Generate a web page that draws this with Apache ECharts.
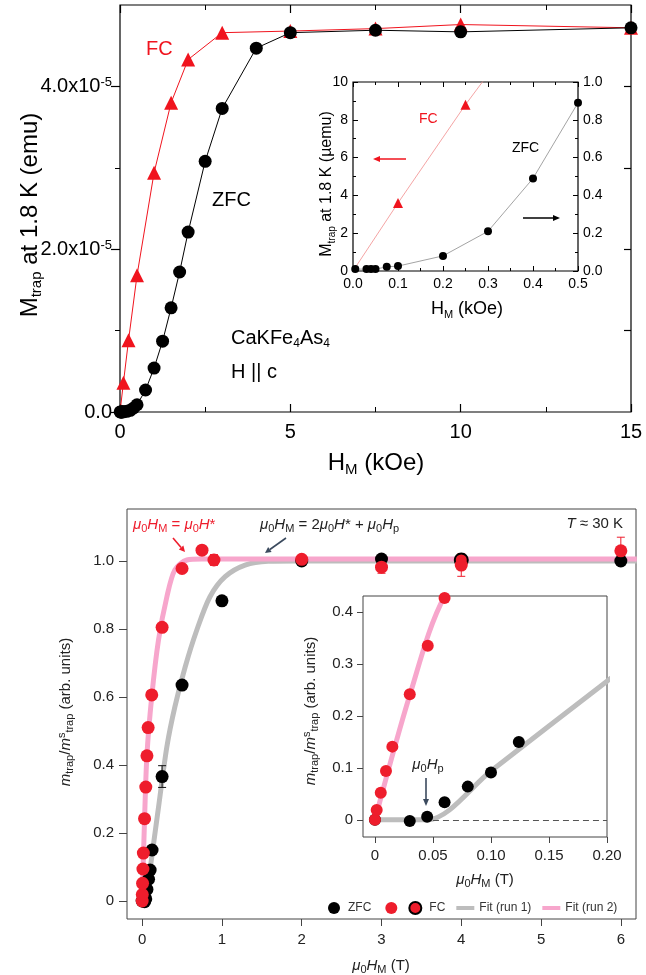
<!DOCTYPE html>
<html>
<head>
<meta charset="utf-8">
<script src="https://cdn.jsdelivr.net/npm/echarts@6/dist/echarts.min.js"></script>
<style>
html,body{margin:0;padding:0;background:#fff}
#chart{width:646px;height:975px}
</style>
</head>
<body>
<div id="chart"></div>
<script>
// ---------- top panel: trapped moment at 1.8 K (emu) vs H_M (kOe)
var zfcH = [0.005, 0.03, 0.04, 0.05, 0.075, 0.1, 0.2, 0.3, 0.4, 0.5, 0.75, 1.0, 1.25, 1.5, 1.75, 2.0, 2.5, 3.0, 4.0, 5.0, 7.5, 10, 15];
var zfcM = [1e-8, 1e-8, 1e-8, 1e-8, 2.2e-8, 2.6e-8, 8e-8, 2.1e-7, 4.9e-7, 8.9e-7, 2.7e-6, 5.4e-6, 8.7e-6, 1.28e-5, 1.72e-5, 2.21e-5, 3.08e-5, 3.73e-5, 4.47e-5, 4.66e-5, 4.69e-5, 4.67e-5, 4.72e-5];
var fcH = [0, 0.1, 0.25, 0.5, 1.0, 1.5, 2.0, 3.0, 5.0, 7.5, 10, 15];
var fcM = [0, 3.6e-6, 8.8e-6, 1.68e-5, 2.94e-5, 3.80e-5, 4.33e-5, 4.66e-5, 4.68e-5, 4.71e-5, 4.76e-5, 4.72e-5];
var insetMaxH = 0.5; // inset shows the low-field part in µemu

// ---------- bottom panel: m_trap / m^s_trap vs µ0H_M (T), T = 30 K
var zfcX = [0, 0.03, 0.045, 0.06, 0.08, 0.1, 0.124, 0.25, 0.5, 1.0, 2.0, 3.0, 6.0];
var zfcY = [0, -0.002, 0.006, 0.034, 0.064, 0.091, 0.15, 0.366, 0.635, 0.883, 1.0, 1.006, 1.0];
var fcX = [0, 0.0015, 0.005, 0.0095, 0.015, 0.03, 0.0455, 0.06, 0.075, 0.12, 0.25, 0.5, 0.75, 0.9, 2.0, 3.0, 4.0, 6.0];
var fcY = [0, 0.019, 0.052, 0.094, 0.141, 0.242, 0.335, 0.427, 0.51, 0.606, 0.805, 0.978, 1.032, 1.003, 1.005, 0.982, 0.988, 1.03];
var fc1X = [4.0];
var fc1Y = [1.003];
var fit1X = [0, 0.045, 0.1, 0.2, 0.31, 0.41, 0.54, 0.685, 0.85, 1.04, 1.29, 1.58, 1.96, 6.2];
var fit1Y = [0, 0, 0.094, 0.267, 0.454, 0.571, 0.689, 0.797, 0.895, 0.954, 0.988, 0.999, 1.0, 1.0];
var fit2X = [0, 0.03, 0.06, 0.12, 0.205, 0.31, 0.41, 0.56, 0.75, 6.2];
var fit2Y = [0, 0.24, 0.43, 0.601, 0.768, 0.895, 0.974, 1.003, 1.006, 1.006];
var errZX = [0.25], errZY = [0.366], errZD = [0.032];
var errFX = [0.9, 3.0, 4.0, 6.0], errFY = [1.003, 0.982, 0.988, 1.03], errFD = [0.016, 0.018, 0.033, 0.04];

var RED = '#f0141e', RED2 = '#ee1d2c', PINK = '#f7a6cc', GREY = '#bdbdbd', DARK = '#3b4a5e';
var FT = 'Liberation Sans, Arial, sans-serif';

function pairs(xs, ys, k) {
  return xs.map(function (x, i) { return [x, ys[i] * (k || 1)]; });
}
function triples(xs, ys, ds) {
  return xs.map(function (x, i) { return [x, ys[i], ds[i]]; });
}
function low(xs, ys, k) {
  return pairs(xs, ys, k).filter(function (p) { return p[0] <= insetMaxH; });
}
// first FC point (origin) has no marker
function noOrigin(arr) {
  return arr.map(function (p) { return p[0] === 0 ? { value: p, symbol: 'none' } : p; });
}
function errBar(color) {
  return function (params, api) {
    var x = api.value(0), y = api.value(1), d = api.value(2);
    var hi = api.coord([x, y + d]), lo = api.coord([x, y - d]);
    var w = 4, st = { stroke: color, lineWidth: 1 };
    return { type: 'group', children: [
      { type: 'line', shape: { x1: hi[0], y1: hi[1], x2: lo[0], y2: lo[1] }, style: st },
      { type: 'line', shape: { x1: hi[0] - w, y1: hi[1], x2: hi[0] + w, y2: hi[1] }, style: st },
      { type: 'line', shape: { x1: lo[0] - w, y1: lo[1], x2: lo[0] + w, y2: lo[1] }, style: st }
    ]};
  };
}
function arrow(x1, y1, x2, y2, color, lw, hl, hw) {
  var a = Math.atan2(y2 - y1, x2 - x1);
  var bx = x2 - hl * Math.cos(a), by = y2 - hl * Math.sin(a);
  var px = -Math.sin(a) * hw / 2, py = Math.cos(a) * hw / 2;
  return [
    { type: 'line', shape: { x1: x1, y1: y1, x2: bx, y2: by }, style: { stroke: color, lineWidth: lw } },
    { type: 'polygon', shape: { points: [[x2, y2], [bx + px, by + py], [bx - px, by - py]] }, style: { fill: color } }
  ];
}
function txt(x, y, text, size, rich, opt) {
  var o = { type: 'text', x: x, y: y, style: {
    text: text, fontFamily: FT, fontSize: size, fill: '#000',
    align: 'left', verticalAlign: 'middle', rich: rich || {}
  }};
  if (opt) {
    for (var k in opt.style || {}) o.style[k] = opt.style[k];
    if (opt.rotation) o.rotation = opt.rotation;
  }
  return o;
}
function richSet(size, color, subK) {
  var ss = Math.round(size * (subK || 0.62));
  return {
    t: { fontSize: size, fill: color, fontFamily: FT, lineHeight: size + 4 },
    i: { fontSize: size, fill: color, fontFamily: FT, fontStyle: 'italic', lineHeight: size + 4 },
    s: { fontSize: ss, fill: color, fontFamily: FT, verticalAlign: 'bottom', lineHeight: ss },
    u: { fontSize: ss, fill: color, fontFamily: FT, verticalAlign: 'top', lineHeight: ss }
  };
}

var chart = echarts.init(document.getElementById('chart'), null, { renderer: 'canvas' });

function ax(o) {
  var base = { type: 'value', splitLine: { show: false }, axisLine: { show: false, onZero: false } };
  for (var k in o) base[k] = o[k];
  return base;
}
var barIcon = 'path://M0 0H18V4H0Z';

var option = {
  animation: false,
  backgroundColor: '#fff',
  grid: [
    { left: 120, top: 5, width: 511, height: 407, show: true, borderColor: '#000', borderWidth: 1.2 },
    { left: 353, top: 82, width: 225, height: 189, show: true, borderColor: '#000', borderWidth: 1.2 },
    { left: 127, top: 509, width: 509, height: 410, show: true, borderColor: '#444', borderWidth: 1 },
    { left: 363, top: 596, width: 244, height: 241, show: true, borderColor: '#444', borderWidth: 1 }
  ],
  xAxis: [
    ax({ gridIndex: 0, min: 0, max: 15, interval: 5, position: 'bottom',
      axisTick: { inside: true, length: 8, lineStyle: { color: '#000', width: 1.2 } },
      minorTick: { show: true, splitNumber: 2, length: 5, lineStyle: { color: '#000' } },
      axisLabel: { margin: 10, fontFamily: FT, fontSize: 20, color: '#000' } }),
    ax({ gridIndex: 0, min: 0, max: 15, interval: 5, position: 'top',
      axisTick: { inside: true, length: 8, lineStyle: { color: '#000', width: 1.2 } },
      minorTick: { show: true, splitNumber: 2, length: 5, lineStyle: { color: '#000' } },
      axisLabel: { show: false } }),
    ax({ gridIndex: 1, min: 0, max: 0.5, interval: 0.1, position: 'bottom',
      axisTick: { inside: true, length: 5, lineStyle: { color: '#000' } },
      minorTick: { show: true, splitNumber: 2, length: 3, lineStyle: { color: '#000' } },
      axisLabel: { margin: 6, fontFamily: FT, fontSize: 14, color: '#000',
        formatter: function (v) { return v.toFixed(1); } } }),
    ax({ gridIndex: 1, min: 0, max: 0.5, interval: 0.1, position: 'top',
      axisTick: { inside: true, length: 5, lineStyle: { color: '#000' } },
      minorTick: { show: true, splitNumber: 2, length: 3, lineStyle: { color: '#000' } },
      axisLabel: { show: false } }),
    ax({ gridIndex: 2, min: -0.19, max: 6.19, position: 'bottom',
      axisTick: { show: true, inside: false, length: 7, customValues: [0, 1, 2, 3, 4, 5, 6], lineStyle: { color: '#444' } },
      axisLabel: { margin: 13, fontFamily: FT, fontSize: 15, color: '#222', customValues: [0, 1, 2, 3, 4, 5, 6] } }),
    ax({ gridIndex: 3, min: -0.0103, max: 0.2, position: 'bottom',
      axisTick: { show: true, inside: false, length: 6, customValues: [0, 0.05, 0.1, 0.15, 0.2], lineStyle: { color: '#444' } },
      axisLabel: { margin: 11, fontFamily: FT, fontSize: 15, color: '#222', customValues: [0, 0.05, 0.1, 0.15, 0.2],
        formatter: function (v) { return v === 0 ? '0' : v.toFixed(2); } } })
  ],
  yAxis: [
    ax({ gridIndex: 0, min: 0, max: 5e-5, position: 'left',
      axisTick: { show: true, inside: false, length: 9, customValues: [0, 2e-5, 4e-5], lineStyle: { color: '#000', width: 1.2 } },
      axisLabel: { margin: 8, customValues: [0, 2e-5, 4e-5], fontFamily: FT, fontSize: 20, color: '#000',
        formatter: function (v) { return v === 0 ? '0.0' : '{a|' + (v * 1e5).toFixed(1) + 'x10}{b|-5}'; },
        rich: { a: { fontFamily: FT, fontSize: 20, color: '#000' },
                b: { fontFamily: FT, fontSize: 13, color: '#000', verticalAlign: 'top', lineHeight: 13 } } } }),
    ax({ gridIndex: 0, min: 0, max: 5e-5, position: 'left',
      axisTick: { show: true, inside: false, length: 5, customValues: [1e-5, 3e-5], lineStyle: { color: '#000' } },
      axisLabel: { show: false } }),
    ax({ gridIndex: 0, min: 0, max: 5e-5, position: 'right',
      axisTick: { show: true, inside: true, length: 7, customValues: [1e-5, 2e-5, 3e-5, 4e-5], lineStyle: { color: '#000', width: 1.2 } },
      axisLabel: { show: false } }),
    ax({ gridIndex: 1, min: 0, max: 10, interval: 2, position: 'left',
      axisTick: { inside: true, length: 5, lineStyle: { color: '#000' } },
      minorTick: { show: true, splitNumber: 2, length: 3, lineStyle: { color: '#000' } },
      axisLabel: { margin: 5, fontFamily: FT, fontSize: 14, color: '#000' } }),
    ax({ gridIndex: 1, min: 0, max: 1, interval: 0.2, position: 'right',
      axisTick: { inside: true, length: 5, lineStyle: { color: '#000' } },
      minorTick: { show: true, splitNumber: 2, length: 3, lineStyle: { color: '#000' } },
      axisLabel: { margin: 5, fontFamily: FT, fontSize: 14, color: '#000',
        formatter: function (v) { return v.toFixed(1); } } }),
    ax({ gridIndex: 2, min: -0.053, max: 1.153, position: 'left',
      axisTick: { show: true, inside: false, length: 8, customValues: [0, 0.2, 0.4, 0.6, 0.8, 1.0], lineStyle: { color: '#444' } },
      axisLabel: { margin: 13, fontFamily: FT, fontSize: 15, color: '#222', customValues: [0, 0.2, 0.4, 0.6, 0.8, 1.0],
        formatter: function (v) { return v === 0 ? '0' : v.toFixed(1); } } }),
    ax({ gridIndex: 3, min: -0.033, max: 0.431, position: 'left',
      axisTick: { show: true, inside: false, length: 6, customValues: [0, 0.1, 0.2, 0.3, 0.4], lineStyle: { color: '#444' } },
      axisLabel: { margin: 10, fontFamily: FT, fontSize: 15, color: '#222', customValues: [0, 0.1, 0.2, 0.3, 0.4],
        formatter: function (v) { return v === 0 ? '0' : v.toFixed(1); } } })
  ],
  legend: {
    left: 323, top: 896, itemWidth: 18, itemHeight: 12, itemGap: 11,
    textStyle: { fontFamily: FT, fontSize: 12, color: '#333' },
    data: ['ZFC', 'FC2', 'FC', { name: 'Fit (run 1)', icon: barIcon }, { name: 'Fit (run 2)', icon: barIcon }],
    formatter: function (n) { return n === 'FC2' ? '' : n; }
  },
  series: [
    // top main
    { type: 'line', name: 'topFC', xAxisIndex: 0, yAxisIndex: 0, data: noOrigin(pairs(fcH, fcM)),
      symbol: 'triangle', symbolSize: 14, itemStyle: { color: RED }, lineStyle: { color: RED, width: 1 }, z: 3 },
    { type: 'line', name: 'topZFC', xAxisIndex: 0, yAxisIndex: 0, data: pairs(zfcH, zfcM),
      symbol: 'circle', symbolSize: 13, itemStyle: { color: '#000' }, lineStyle: { color: '#000', width: 1 }, z: 4 },
    // top inset (µemu)
    { type: 'line', name: 'inFC', xAxisIndex: 2, yAxisIndex: 3, data: noOrigin(low(fcH, fcM, 1e6)), clip: true,
      symbol: 'triangle', symbolSize: 10, itemStyle: { color: RED }, lineStyle: { color: '#f39a9a', width: 0.9 }, z: 5 },
    { type: 'line', name: 'inZFC', xAxisIndex: 2, yAxisIndex: 4, data: low(zfcH, zfcM, 1e6), clip: true,
      symbol: 'circle', symbolSize: 8, itemStyle: { color: '#000' }, lineStyle: { color: '#999', width: 0.9 }, z: 5 },
    // bottom main
    { type: 'line', name: 'Fit (run 1)', xAxisIndex: 4, yAxisIndex: 5, data: pairs(fit1X, fit1Y), smooth: 0.3,
      symbol: 'none', itemStyle: { color: GREY }, lineStyle: { color: GREY, width: 5 }, z: 2 },
    { type: 'line', name: 'Fit (run 2)', xAxisIndex: 4, yAxisIndex: 5, data: pairs(fit2X, fit2Y), smooth: 0.3,
      symbol: 'none', itemStyle: { color: PINK }, lineStyle: { color: PINK, width: 5 }, z: 2 },
    { type: 'custom', name: 'errZ', xAxisIndex: 4, yAxisIndex: 5, data: triples(errZX, errZY, errZD),
      encode: { x: 0, y: 1 }, renderItem: errBar('#111'), z: 3 },
    { type: 'custom', name: 'errF', xAxisIndex: 4, yAxisIndex: 5, data: triples(errFX, errFY, errFD),
      encode: { x: 0, y: 1 }, renderItem: errBar(RED2), z: 3 },
    { type: 'scatter', name: 'ZFC', xAxisIndex: 4, yAxisIndex: 5, data: pairs(zfcX, zfcY),
      symbolSize: 13, itemStyle: { color: '#000', opacity: 1 }, z: 4 },
    { type: 'scatter', name: 'FC', xAxisIndex: 4, yAxisIndex: 5, data: pairs(fc1X, fc1Y),
      symbolSize: 13, itemStyle: { color: RED2, borderColor: '#000', borderWidth: 2, opacity: 1 }, z: 5 },
    { type: 'scatter', name: 'FC2', xAxisIndex: 4, yAxisIndex: 5, data: pairs(fcX, fcY),
      symbolSize: 13, itemStyle: { color: RED2, opacity: 1 }, z: 6 },
    // bottom inset
    { type: 'line', name: 'Fit (run 1)', xAxisIndex: 5, yAxisIndex: 6, data: pairs(fit1X, fit1Y), smooth: 0.3, clip: true,
      symbol: 'none', itemStyle: { color: GREY }, lineStyle: { color: GREY, width: 5 }, z: 2,
      markLine: { silent: true, symbol: 'none', label: { show: false },
        lineStyle: { color: '#555', type: [6, 4], width: 1 },
        data: [[{ coord: [0.05, 0] }, { coord: [0.2, 0] }]] } },
    { type: 'line', name: 'Fit (run 2)', xAxisIndex: 5, yAxisIndex: 6, data: pairs(fit2X, fit2Y), smooth: 0.3, clip: true,
      symbol: 'none', itemStyle: { color: PINK }, lineStyle: { color: PINK, width: 5 }, z: 2 },
    { type: 'scatter', name: 'ZFC', xAxisIndex: 5, yAxisIndex: 6, data: pairs(zfcX, zfcY), clip: true,
      symbolSize: 12, itemStyle: { color: '#000', opacity: 1 }, z: 4 },
    { type: 'scatter', name: 'FC2', xAxisIndex: 5, yAxisIndex: 6, data: pairs(fcX, fcY), clip: true,
      symbolSize: 12, itemStyle: { color: RED2, opacity: 1 }, z: 6 }
  ]
};

var rB = richSet(15, '#222', 0.7), rBr = richSet(15, RED2, 0.7);

var g = [];
// top panel texts
g.push(txt(30, 215, '{t|M}{s|trap}{t| at 1.8 K (emu)}', 24, richSet(24, '#000'), { rotation: Math.PI / 2, style: { align: 'center' } }));
g.push(txt(376, 463, '{t|H}{s|M}{t| (kOe)}', 24, richSet(24, '#000'), { style: { align: 'center' } }));
g.push(txt(146, 49, 'FC', 20, null, { style: { fill: RED } }));
g.push(txt(212, 200, 'ZFC', 20));
g.push(txt(231, 338, '{t|CaKFe}{s|4}{t|As}{s|4}', 20, richSet(20, '#000')));
g.push(txt(231, 372, 'H || c', 20));
// top inset texts
g.push(txt(327, 184, '{t|M}{s|trap}{t| at 1.8 K (µemu)}', 16, richSet(16, '#000'), { rotation: Math.PI / 2, style: { align: 'center' } }));
g.push(txt(467, 309, '{t|H}{s|M}{t| (kOe)}', 18, richSet(18, '#000'), { style: { align: 'center' } }));
g.push(txt(419, 119, 'FC', 14, null, { style: { fill: RED } }));
g.push(txt(512, 148, 'ZFC', 14));
g = g.concat(arrow(406, 159, 373, 159, RED, 1.5, 7, 6));
g = g.concat(arrow(523, 218, 560, 218, '#000', 1.5, 7, 6));
// bottom panel texts
g.push(txt(66, 712, '{i|m}{s|trap}{t|/}{i|m}{u|s}{s|trap}{t| (arb. units)}', 15, rB, { rotation: Math.PI / 2, style: { align: 'center' } }));
g.push(txt(381, 966, '{i|μ}{s|0}{i|H}{s|M}{t| (T)}', 15, rB, { style: { align: 'center' } }));
g.push(txt(133, 525, '{i|μ}{s|0}{i|H}{s|M}{t| = }{i|μ}{s|0}{i|H}{t|*}', 15, rBr));
g.push(txt(260, 525, '{i|μ}{s|0}{i|H}{s|M}{t| = 2}{i|μ}{s|0}{i|H}{t|* + }{i|μ}{s|0}{i|H}{s|p}', 15, rB));
g.push(txt(623, 524, '{i|T}{t| ≈ 30 K}', 15, rB, { style: { align: 'right' } }));
g = g.concat(arrow(173, 538, 185, 552, RED2, 1.6, 6, 6));
g = g.concat(arrow(286, 538, 265, 553, DARK, 1.6, 6, 6));
// bottom inset texts
g.push(txt(311, 711, '{i|m}{s|trap}{t|/}{i|m}{u|s}{s|trap}{t| (arb. units)}', 15, rB, { rotation: Math.PI / 2, style: { align: 'center' } }));
g.push(txt(485, 880, '{i|μ}{s|0}{i|H}{s|M}{t| (T)}', 15, rB, { style: { align: 'center' } }));
g.push(txt(428, 765, '{i|μ}{s|0}{i|H}{s|p}', 15, rB, { style: { align: 'center' } }));
g = g.concat(arrow(426, 778, 426, 806, DARK, 1.6, 7, 6));

option.graphic = g;
chart.setOption(option);
</script>
</body>
</html>
